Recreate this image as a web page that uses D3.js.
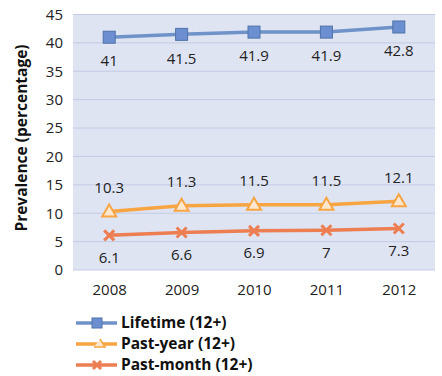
<!DOCTYPE html>
<html>
<head>
<meta charset="utf-8">
<script src="https://cdn.jsdelivr.net/npm/d3@7"></script>
<style>
  body { margin: 0; background: #fff; }
  text { font-family: "Open Sans", "Noto Sans", sans-serif; }
</style>
</head>
<body>
<script>
var years = ["2008", "2009", "2010", "2011", "2012"];
var lifetime = [41, 41.5, 41.9, 41.9, 42.8];
var pastYear = [10.3, 11.3, 11.5, 11.5, 12.1];
var pastMonth = [6.1, 6.6, 6.9, 7, 7.3];
var yTicks = [0, 5, 10, 15, 20, 25, 30, 35, 40, 45];

var series = [
    { name: "Lifetime (12+)", values: lifetime, color: "#6f93c9", marker: "square", labelDy: 24 },
    { name: "Past-year (12+)", values: pastYear, color: "#f7a543", marker: "triangle", labelDy: -24 },
    { name: "Past-month (12+)", values: pastMonth, color: "#ec7e52", marker: "cross", labelDy: 22 }
];

var svg = d3.select("body").append("svg")
    .attr("width", 442)
    .attr("height", 376);

var pLeft = 73, pRight = 435, pTop = 14.5, pBottom = 270;

var x = d3.scalePoint().domain(years).range([pLeft, pRight]).padding(0.5);
var y = d3.scaleLinear().domain([0, 45]).range([pBottom, pTop]);

// plot background
svg.append("rect")
   .attr("x", pLeft).attr("y", pTop)
   .attr("width", pRight - pLeft).attr("height", pBottom - pTop)
   .attr("fill", "#dfe4f3");

// gridlines
svg.append("g")
   .selectAll("line").data(yTicks)
   .enter().append("line")
   .attr("x1", pLeft).attr("x2", pRight)
   .attr("y1", d => y(d)).attr("y2", d => y(d))
   .attr("stroke", "#c3cbe4")
   .attr("stroke-width", 1);

// y axis
var yAxis = svg.append("g")
   .attr("transform", "translate(" + pLeft + ",0)")
   .call(d3.axisLeft(y).tickValues(yTicks).tickSize(0).tickPadding(10));
yAxis.select(".domain").remove();
yAxis.selectAll("text").attr("font-size", "15px").attr("fill", "#222")
     .style("font-family", "'Open Sans', sans-serif");

// x axis
var xAxis = svg.append("g")
   .attr("transform", "translate(0," + pBottom + ")")
   .call(d3.axisBottom(x).tickSize(0).tickPadding(14));
xAxis.select(".domain").remove();
xAxis.selectAll("text").attr("font-size", "15px").attr("fill", "#222")
     .style("font-family", "'Open Sans', sans-serif");

// y title
svg.append("text")
   .attr("transform", "translate(27,138) rotate(-90)")
   .attr("text-anchor", "middle")
   .attr("font-size", "15.5px")
   .attr("font-weight", "bold")
   .attr("fill", "#111")
   .text("Prevalence (percentage)");

var line = d3.line().x((d, i) => x(years[i])).y(d => y(d));

function drawMarker(g, type, color, cx, cy, r) {
    if (type === "square") {
        g.append("rect")
         .attr("x", cx - r).attr("y", cy - r)
         .attr("width", 2 * r).attr("height", 2 * r)
         .attr("fill", "#6b8fd0")
         .attr("stroke", "#4f72a8")
         .attr("stroke-width", 1);
    } else if (type === "triangle") {
        g.append("path")
         .attr("d", d3.line()([[cx, cy - r - 1], [cx + r + 1, cy + r - 1], [cx - r - 1, cy + r - 1]]) + "Z")
         .attr("fill", "#fde8cf")
         .attr("stroke", color)
         .attr("stroke-width", 2);
    } else {
        var c = r - 1;
        g.append("path")
         .attr("d", "M" + (cx - c) + "," + (cy - c) + "L" + (cx + c) + "," + (cy + c) +
                    "M" + (cx + c) + "," + (cy - c) + "L" + (cx - c) + "," + (cy + c))
         .attr("stroke", color)
         .attr("stroke-width", 3);
    }
}

series.forEach(function (s) {
    var g = svg.append("g");
    g.append("path")
     .attr("d", line(s.values))
     .attr("fill", "none")
     .attr("stroke", s.color)
     .attr("stroke-width", 3.5);
    s.values.forEach(function (v, i) {
        drawMarker(g, s.marker, s.color, x(years[i]), y(v), 6);
    });
    g.selectAll("text.lbl").data(s.values)
     .enter().append("text")
     .attr("class", "lbl")
     .attr("x", (d, i) => x(years[i]))
     .attr("y", d => y(d) + s.labelDy)
     .attr("dy", "0.35em")
     .attr("text-anchor", "middle")
     .attr("font-size", "15px")
     .attr("fill", "#222")
     .text(d => d);
});

// legend
var legend = svg.append("g");
series.forEach(function (s, i) {
    var ly = 323 + i * 21;
    legend.append("line")
          .attr("x1", 76).attr("x2", 117)
          .attr("y1", ly).attr("y2", ly)
          .attr("stroke", s.color)
          .attr("stroke-width", 3.5);
    if (s.marker === "triangle") {
        legend.append("path")
              .attr("d", "M100," + (ly - 5) + "L105," + (ly + 3) + "L94," + (ly + 3))
              .attr("fill", "#fde8cf")
              .attr("stroke", s.color)
              .attr("stroke-width", 1.5);
    } else {
        drawMarker(legend, s.marker, s.color, 97, ly, 5);
    }
    legend.append("text")
          .attr("x", 121).attr("y", ly)
          .attr("dy", "0.35em")
          .attr("font-size", "15.5px")
          .attr("font-weight", "bold")
          .attr("fill", "#111")
          .text(s.name);
});
</script>
</body>
</html>
